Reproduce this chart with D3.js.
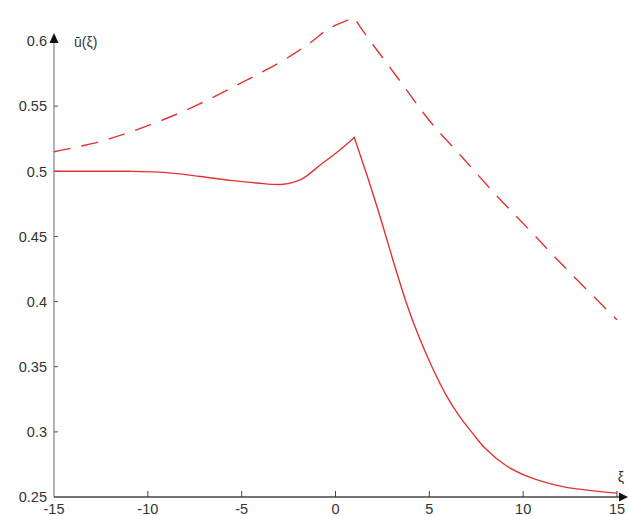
<!DOCTYPE html>
<html>
<head>
<meta charset="utf-8">
<script src="https://cdn.jsdelivr.net/npm/d3@7"></script>
<style>
  html, body { margin: 0; padding: 0; background: #fff; }
  svg { display: block; }
  text { font-family: "Liberation Sans", Arial, sans-serif; }
</style>
</head>
<body>
<svg id="chart" width="629" height="516"></svg>
<script>
// ---- data ----
const xTicks = [-15, -10, -5, 0, 5, 10, 15];
const xTickLabels = ["-15", "-10", "-5", "0", "5", "10", "15"];
const yTicks = [0.25, 0.3, 0.35, 0.4, 0.45, 0.5, 0.55, 0.6];
const yTickLabels = ["0.25", "0.3", "0.35", "0.4", "0.45", "0.5", "0.55", "0.6"];

// solid curve, rising part (up to the kink) and falling part
const solidLeftX = [-15, -13, -11, -9, -7.2, -5.6, -4.2, -2.8, -1.8, -0.8, 0.2, 1];
const solidLeftY = [0.500, 0.500, 0.500, 0.499, 0.496, 0.493, 0.491, 0.490, 0.494, 0.505, 0.516, 0.526];
const solidRightX = [1, 1.7, 2.4, 3.1, 3.8, 4.5, 5.2, 5.9, 6.6, 7.3, 8.0, 9.1, 10.2, 11, 12.1, 13.9, 15];
const solidRightY = [0.526, 0.496, 0.464, 0.430, 0.398, 0.371, 0.348, 0.328, 0.312, 0.299, 0.287, 0.274, 0.266, 0.262, 0.258, 0.2545, 0.253];

// dashed curve
const dashLeftX = [-15, -12.5, -10, -7.5, -5, -2.8, -1.4, -0.3, 1];
const dashLeftY = [0.515, 0.523, 0.535, 0.550, 0.568, 0.585, 0.598, 0.610, 0.618];
const dashRightX = [1, 1.5, 3.3, 5, 6.8, 8.6, 10.4, 12.1, 15];
const dashRightY = [0.618, 0.607, 0.572, 0.539, 0.510, 0.481, 0.454, 0.428, 0.386];

// ---- drawing ----
const svg = d3.select("#chart");
const x = d3.scaleLinear().domain([-15, 15]).range([54, 617]);
const y = d3.scaleLinear().domain([0.25, 0.6]).range([497, 41]);

const red = "#e03434";
const textColor = "#333";

const zip = (xs, ys) => xs.map((v, i) => [v, ys[i]]);
const lineGen = d3.line().x(d => x(d[0])).y(d => y(d[1])).curve(d3.curveCatmullRom.alpha(0.5));
function kinked(lx, ly, rx, ry) {
  const a = lineGen(zip(lx, ly));
  const b = lineGen(zip(rx, ry)).replace(/^M/, "L");
  return a + b;
}

// y axis (gray line, ticks to the right)
svg.append("line")
  .attr("x1", x(-15)).attr("x2", x(-15))
  .attr("y1", y(0.25)).attr("y2", 42)
  .attr("stroke", "#8a8a8a").attr("stroke-width", 1.3);
svg.append("path")
  .attr("d", `M${x(-15)},33 L${x(-15) - 4.5},43 L${x(-15) + 4.5},43 Z`)
  .attr("fill", "#111");

const yAxisG = svg.append("g");
yTicks.forEach((t, i) => {
  if (t > 0.25 && t < 0.6) {
    yAxisG.append("line")
      .attr("x1", x(-15)).attr("x2", x(-15) + 4)
      .attr("y1", y(t)).attr("y2", y(t))
      .attr("stroke", "#555").attr("stroke-width", 1);
  }
  yAxisG.append("text")
    .attr("x", 47).attr("y", y(t))
    .attr("dy", "0.36em")
    .attr("text-anchor", "end")
    .attr("font-size", 14.5)
    .attr("fill", textColor)
    .text(yTickLabels[i]);
});

// x axis (dark line, ticks upward)
svg.append("line")
  .attr("x1", x(-15)).attr("x2", 620)
  .attr("y1", y(0.25)).attr("y2", y(0.25))
  .attr("stroke", "#444").attr("stroke-width", 1.3);
svg.append("path")
  .attr("d", `M628,${y(0.25)} L619,${y(0.25) - 4.5} L619,${y(0.25) + 4.5} Z`)
  .attr("fill", "#111");

const xAxisG = svg.append("g");
xTicks.forEach((t, i) => {
  if (t > -15) {
    xAxisG.append("line")
      .attr("x1", x(t)).attr("x2", x(t))
      .attr("y1", y(0.25)).attr("y2", y(0.25) - 6)
      .attr("stroke", "#444").attr("stroke-width", 1);
  }
  xAxisG.append("text")
    .attr("x", x(t)).attr("y", 514)
    .attr("text-anchor", "middle")
    .attr("font-size", 14.5)
    .attr("fill", textColor)
    .text(xTickLabels[i]);
});

// axis titles
svg.append("text")
  .attr("x", 74).attr("y", 47)
  .attr("font-size", 14)
  .attr("fill", textColor)
  .text("ū(ξ)");
svg.append("text")
  .attr("x", 621).attr("y", 482)
  .attr("text-anchor", "middle")
  .attr("font-size", 14)
  .attr("fill", textColor)
  .text("ξ");

// curves
svg.append("path")
  .attr("d", kinked(dashLeftX, dashLeftY, dashRightX, dashRightY))
  .attr("fill", "none")
  .attr("stroke", red)
  .attr("stroke-width", 1.4)
  .attr("stroke-dasharray", "17,11");

svg.append("path")
  .attr("d", kinked(solidLeftX, solidLeftY, solidRightX, solidRightY))
  .attr("fill", "none")
  .attr("stroke", red)
  .attr("stroke-width", 1.4);
</script>
</body>
</html>
